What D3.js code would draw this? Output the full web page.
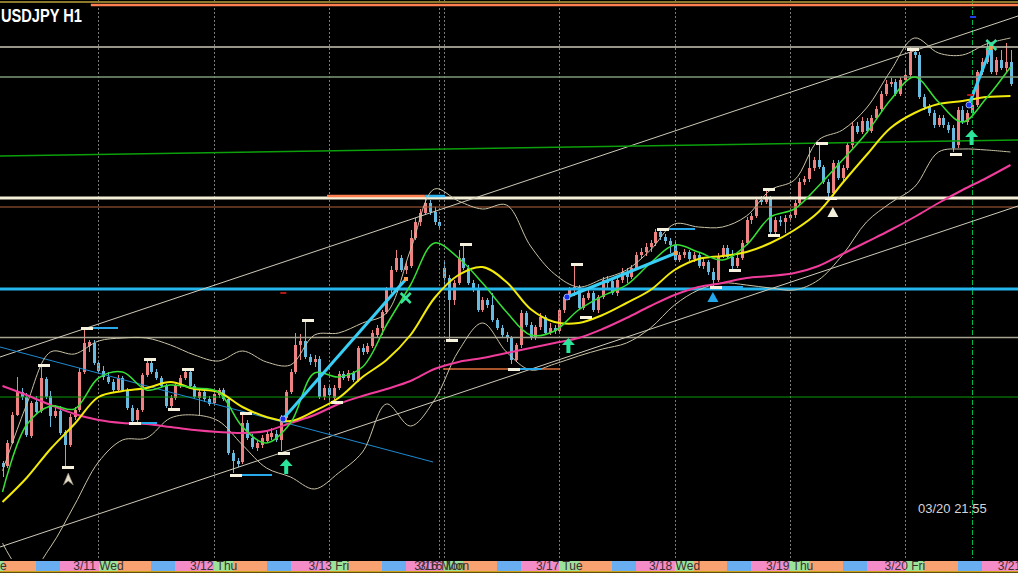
<!DOCTYPE html>
<html><head><meta charset="utf-8">
<script src="https://cdn.jsdelivr.net/npm/d3@7/dist/d3.min.js"></script>
<style>html,body{margin:0;padding:0;background:#000;overflow:hidden}svg{display:block}</style>
</head><body>
<script>
// ================= DATA =================
const symbolTitle = "USDJPY H1";
const clockText = "03/20 21:55";
const firstBarHour = 4; // bar 0 = 3/10 04:00 (H1)

const opens = [
103.18,103.12,103.58,104.14,104.60,104.50,103.72,104.40,104.22,104.86,
104.52,104.12,104.22,103.80,103.54,104.10,104.24,105.00,105.52,105.58,
105.18,105.02,104.90,104.80,104.64,104.88,104.64,104.28,104.04,104.24,
104.94,105.18,105.00,104.88,104.72,104.32,104.48,104.72,104.88,105.00,
104.72,104.48,104.60,104.46,104.38,104.54,104.64,104.46,103.38,103.22,
103.20,103.98,103.68,103.48,103.54,103.62,103.70,103.76,103.64,104.08,
104.60,105.00,105.54,105.62,105.30,105.20,105.26,104.50,104.68,104.48,
104.68,104.96,104.88,104.98,104.84,105.48,105.40,105.52,105.74,105.88,
106.20,106.64,107.04,107.28,107.04,107.12,107.68,108.00,108.18,108.38,
108.20,108.00,107.08,106.88,106.44,106.78,107.28,107.08,106.78,106.68,
106.24,106.44,106.34,106.04,105.88,105.74,105.68,105.24,105.54,106.18,
105.94,105.70,105.90,106.10,105.78,105.88,105.82,106.24,106.50,106.64,
106.70,106.28,106.48,106.58,106.24,106.50,106.84,106.82,106.58,106.84,
107.00,106.90,107.08,107.34,107.40,107.50,107.58,107.80,107.70,107.62,
107.54,107.24,107.34,107.40,107.26,107.34,107.12,107.20,107.00,106.84,
107.32,107.48,107.30,107.12,107.28,107.58,108.04,108.12,108.44,108.40,
108.48,107.80,108.04,108.00,108.08,108.14,108.38,108.80,108.86,109.08,
109.24,109.10,108.80,108.58,109.18,108.88,109.08,109.54,109.92,109.80,
110.02,109.82,110.08,110.26,110.56,110.76,110.80,110.56,110.84,110.94,
111.40,111.34,110.50,110.30,110.18,109.94,110.08,109.94,109.88,109.54,
110.24,110.00,110.18,110.34,111.00,111.20,111.44,111.00,111.24,111.08,
111.20];
const highs = [
103.22,103.64,104.20,104.90,104.68,104.58,104.42,104.52,105.14,104.90,
104.62,104.34,104.32,103.84,104.16,104.30,105.08,105.88,105.64,105.64,
105.24,105.12,105.00,104.86,104.94,104.92,104.68,104.34,104.28,104.98,
105.26,105.22,105.06,104.92,104.76,104.54,104.76,104.94,105.06,105.04,
104.76,104.66,104.68,104.52,104.62,104.68,104.68,104.50,103.44,103.28,
104.20,104.04,103.76,103.64,103.74,103.84,103.88,103.84,104.14,104.64,
105.06,105.78,105.76,106.04,105.36,105.34,105.32,104.74,104.74,104.74,
105.02,105.02,105.04,105.02,105.52,105.56,105.58,105.84,105.94,106.24,
106.70,107.12,107.44,107.34,107.20,107.84,108.08,108.26,108.52,108.44,
108.30,108.06,107.20,106.94,106.84,107.44,107.58,107.14,106.84,106.76,
106.50,106.48,106.58,106.08,105.94,105.80,105.72,105.58,106.24,106.22,
106.00,105.94,106.18,106.14,105.98,105.94,106.28,106.54,106.70,107.12,
106.74,106.54,106.64,106.62,106.54,106.90,106.92,106.84,106.90,107.08,
107.08,107.14,107.40,107.48,107.58,107.64,107.86,107.86,107.76,107.68,
107.60,107.40,107.46,107.44,107.40,107.38,107.26,107.24,107.08,107.38,
107.54,107.54,107.44,107.34,107.64,108.10,108.18,108.50,108.52,108.66,
108.52,108.10,108.12,108.14,108.20,108.44,108.88,108.92,109.50,109.30,
109.60,109.14,108.86,109.24,109.24,109.14,109.60,110.00,110.00,110.10,
110.08,110.14,110.32,110.62,110.84,110.88,110.86,110.90,111.04,111.50,
111.46,111.40,110.56,110.36,110.24,110.14,110.14,110.00,109.94,110.30,
110.32,110.24,110.40,111.04,111.28,111.58,111.50,111.30,111.44,111.58,
111.44];
const lows = [
102.90,103.08,103.56,104.12,104.44,103.70,103.68,104.16,104.18,104.46,
103.90,104.08,103.74,103.10,103.50,104.04,104.20,104.96,105.40,105.14,
104.96,104.84,104.76,104.60,104.60,104.60,104.24,103.96,103.98,104.20,
104.90,104.96,104.84,104.68,104.28,104.26,104.44,104.68,104.84,104.68,
104.46,104.14,104.40,104.32,104.34,104.48,104.42,103.34,102.98,103.10,
103.16,103.64,103.46,103.42,103.48,103.58,103.64,103.60,103.42,104.04,
104.56,104.96,105.24,105.26,105.14,105.10,104.46,104.44,104.44,104.40,
104.64,104.84,104.82,104.80,104.80,105.34,105.36,105.48,105.68,105.74,
106.16,106.58,107.00,107.00,106.96,107.08,107.64,107.92,108.14,108.14,
107.94,107.86,106.64,105.64,106.34,106.74,107.04,106.74,106.60,106.20,
106.20,106.28,106.00,105.84,105.68,105.60,105.16,105.20,105.48,105.90,
105.64,105.64,105.84,105.74,105.74,105.76,105.78,106.18,106.44,106.52,
106.24,106.24,106.44,106.20,106.18,106.46,106.64,106.54,106.52,106.78,
106.78,106.86,107.04,107.28,107.32,107.40,107.52,107.64,107.56,107.38,
107.20,107.20,107.28,107.22,107.20,107.08,107.06,106.94,106.70,106.80,
107.28,107.26,107.04,107.08,107.24,107.54,107.96,108.08,108.34,108.36,
107.74,107.76,107.92,107.78,108.00,108.08,108.34,108.74,108.80,109.02,
109.06,108.76,108.50,108.52,108.84,108.82,109.04,109.48,109.76,109.76,
109.78,109.78,110.04,110.22,110.52,110.70,110.52,110.52,110.78,110.90,
111.28,110.46,110.24,110.12,109.88,109.90,109.88,109.78,109.40,109.48,
109.96,109.94,110.12,110.30,110.94,111.16,110.96,110.94,111.04,111.00,
110.72];
const closes = [
103.10,103.58,104.14,104.60,104.50,103.74,104.38,104.20,104.88,104.50,
104.12,104.22,103.78,103.54,104.10,104.24,105.00,105.58,105.60,105.18,
105.02,104.90,104.80,104.64,104.88,104.64,104.28,104.02,104.24,104.94,
105.18,105.00,104.88,104.72,104.32,104.48,104.72,104.88,105.00,104.72,
104.50,104.60,104.46,104.36,104.56,104.64,104.46,103.38,103.22,103.16,
103.98,103.68,103.50,103.58,103.68,103.76,103.78,103.64,104.08,104.60,
105.00,105.54,105.62,105.30,105.20,105.26,104.50,104.68,104.54,104.68,
104.96,104.88,104.98,104.84,105.48,105.40,105.52,105.78,105.88,106.20,
106.64,107.04,107.28,107.04,107.12,107.68,108.00,108.18,108.38,108.20,
108.00,107.92,106.88,106.44,106.78,107.28,107.08,106.78,106.68,106.24,
106.44,106.34,106.04,105.88,105.74,105.68,105.24,105.54,106.18,105.94,
105.70,105.90,106.10,105.78,105.88,105.82,106.24,106.50,106.64,106.70,
106.28,106.48,106.58,106.24,106.50,106.84,106.78,106.58,106.84,107.00,
106.90,107.08,107.34,107.40,107.50,107.58,107.80,107.70,107.62,107.54,
107.24,107.34,107.40,107.26,107.34,107.12,107.20,107.00,106.84,107.32,
107.48,107.30,107.12,107.28,107.58,108.04,108.12,108.44,108.40,108.48,
107.80,108.04,108.00,108.08,108.14,108.38,108.80,108.86,109.08,109.24,
109.10,108.80,108.58,109.18,108.88,109.08,109.54,109.92,109.80,110.02,
109.82,110.08,110.26,110.56,110.76,110.80,110.56,110.84,110.94,111.40,
111.34,110.50,110.30,110.18,109.94,110.08,109.94,109.84,109.48,110.24,
110.00,110.18,110.34,111.00,111.20,111.44,111.00,111.24,111.08,111.20,
110.76];

// indicator readings (sampled every 5 bars)
const maBars = [0,5,10,15,20,25,30,35,40,45,50,55,60,65,70,75,80,85,90,95,100,105,110,115,120,125,130,135,140,145,150,155,160,165,170,175,180,185,190,195,200,205,210];
const fastMA = [102.60,103.94,104.32,104.26,104.88,105.00,104.64,104.74,104.68,104.60,103.90,103.58,103.98,104.98,104.90,105.10,105.94,106.74,107.58,107.28,106.78,106.20,105.74,105.82,106.24,106.52,106.74,107.18,107.54,107.40,107.24,107.54,108.10,108.26,108.72,109.24,109.78,110.44,110.90,110.40,110.00,110.48,111.10];
const slowMA = [102.40,102.88,103.46,103.96,104.50,104.62,104.68,104.80,104.66,104.60,104.30,104.10,104.02,104.22,104.48,104.90,105.24,105.74,106.48,106.94,107.10,106.80,106.26,106.00,105.98,106.14,106.38,106.64,107.04,107.26,107.32,107.40,107.58,107.84,108.20,108.78,109.34,109.88,110.18,110.36,110.42,110.50,110.52];
const longMA = [104.72,104.54,104.34,104.16,104.04,103.98,103.96,103.90,103.84,103.80,103.78,103.82,103.98,104.14,104.36,104.52,104.66,104.82,105.06,105.20,105.28,105.38,105.48,105.58,105.68,105.86,106.08,106.32,106.54,106.70,106.78,106.88,106.92,106.98,107.12,107.36,107.60,107.84,108.10,108.38,108.64,108.88,109.14];
const bbUpper = [103.02,104.34,105.40,105.36,105.62,105.68,105.68,105.54,105.34,105.22,105.42,105.20,105.14,105.74,105.78,105.98,106.18,107.44,108.66,108.42,108.26,108.34,107.52,106.96,106.70,106.86,107.04,107.44,107.96,107.90,107.90,108.12,108.64,108.84,109.64,109.84,110.28,111.02,111.68,111.38,111.34,111.56,111.68];
const bbLower = [101.58,100.94,101.50,102.34,103.20,103.64,103.68,104.08,104.14,104.02,103.54,103.08,102.90,102.66,102.98,103.40,104.36,103.92,104.44,105.42,105.98,105.40,105.04,105.16,105.32,105.46,105.58,105.88,106.34,106.64,106.78,106.74,106.68,106.64,106.84,107.34,108.00,108.38,108.70,109.40,109.46,109.44,109.40];

// time axis
const dayStartBars = [20,44,68,92,116,140,164,188];
const extraSeparatorBars = [91];
const dayLabels = ["3/10 Tue","3/11 Wed","3/12 Thu","3/13 Fri","3/16 Mon","3/16 Mon","3/17 Tue","3/18 Wed","3/19 Thu","3/20 Fri","3/21 Sat"];
const dayLabelBars = [-4,20,44,68,91,92,116,140,164,188,212];
const sessionStartHours = [0,4,11,16];
const currentBar = 202;

// chart objects (bar index, price)
const hLevels = [112.40,111.50,110.90,108.48,108.30,106.66,105.69,104.50];
const channelUpper = [[-0.52,105.30],[211.56,112.12]];
const channelLower = [[-0.52,101.50],[211.56,108.32]];
const greenTrend = [[-0.52,109.32],[211.56,109.64]];
const blueTrend = [[-0.52,105.50],[89.69,103.20]];
const zigzag = [[[58.44,104.06],[84.06,106.86]],[[117.6,106.50],[140.3,107.38]],[[201.35,110.34],[205.9,111.48]]];
const topOrange = [[18.4,112.34],[211.56,112.34]];
const peakOrange = [[67.6,108.52],[88,108.52]];
const peakCyan = [[88,108.52],[92.2,108.52]];
const lowOrange = [[91.8,105.06],[116.2,105.06]];
const fractalHighs = [[8,105.14],[17,105.88],[30,105.26],[38,105.06],[50,104.18],[63,106.04],[96,107.56],[119,107.16],[137,107.86],[159,108.66],[170,109.58],[189,111.46]];
const fractalLows = [[13,103.10],[27,103.98],[35,104.26],[48,102.94],[58,103.38],[69,104.40],[93,105.64],[106,105.06],[121,106.10],[148,106.70],[152,107.04],[160,107.74],[172,108.48],[198,109.36]];
const fractalExt = [[17,105.88,24.1],[27,103.98,32.2],[48,102.94,56.1],[106,105.06,112.4],[137,107.86,144.3],[148,106.70,154.3]];
const upArrows = [[59.1,103.26],[117.9,105.68],[201.9,109.84]];
const crossMarks = [[84,106.48],[206,111.54]];
const whiteTriangles = [[173,108.20]];
const blueTriangles = [[148,106.50]];
const chevrons = [[13.7,102.86]];
const blueDots = [[58.44,104.06],[117.6,106.50],[201.35,110.34]];
const orangeSquares = [[84.06,106.86],[140.3,107.38],[205.9,111.48]];
const redTicks = [[58.5,106.58],[201.6,110.54]];
const blueTicks = [[202.2,112.10]];

// ================= DRAW =================
const W = 1018, H = 573, chartBottom = 559;
const svg = d3.select("body").append("svg").attr("width", W).attr("height", H);
svg.append("rect").attr("width", W).attr("height", H).attr("fill", "#000");
const x = d3.scaleLinear().domain([0, 210]).range([2.5, 1010.5]);
const y = d3.scaleLinear().domain([101.30, 112.44]).range([557, 0]);

svg.append("defs").append("clipPath").attr("id", "clip")
  .append("rect").attr("x", 0).attr("y", 0).attr("width", W).attr("height", chartBottom);
const g = svg.append("g").attr("clip-path", "url(#clip)");

// session band
const band = svg.append("g").attr("shape-rendering", "crispEdges");
const sessionColors = ["#9BE39B", "#F8A272", "#6AAEF2", "#F48CC8"];
for (let i = -6; i <= 214; i++) {
  const h = ((firstBarHour + i) % 24 + 24) % 24;
  let s = 0;
  sessionStartHours.forEach((sh, k) => { if (h >= sh) s = k; });
  band.append("rect").attr("x", x(i)).attr("y", 561).attr("width", x(i + 1) - x(i) + 0.6)
    .attr("height", 10).attr("fill", sessionColors[s]);
}
svg.append("rect").attr("x", 0).attr("y", 571).attr("width", W).attr("height", 1.5).attr("fill", "#C9A21A");
dayLabels.forEach((t, k) => {
  svg.append("text").attr("x", x(dayLabelBars[k])).attr("y", 570).attr("text-anchor", "middle")
    .attr("font-family", "Liberation Sans, Arial, sans-serif").attr("font-size", 12)
    .attr("fill", "#3a3030").text(t);
});

// candles
const cg = g.append("g").attr("shape-rendering", "crispEdges");
opens.forEach((o, i) => {
  const c = closes[i];
  const col = c >= o ? "#EE8282" : "#68BADF";
  const cx = Math.round(x(i));
  cg.append("line").attr("x1", cx + 0.5).attr("x2", cx + 0.5)
    .attr("y1", y(highs[i])).attr("y2", y(lows[i])).attr("stroke", col).attr("stroke-width", 1);
  const top = y(Math.max(o, c)), bot = y(Math.min(o, c));
  cg.append("rect").attr("x", cx - 1).attr("y", top).attr("width", 3)
    .attr("height", Math.max(1, bot - top)).attr("fill", col);
});

// separators
const sepG = g.append("g");
dayStartBars.concat(extraSeparatorBars).forEach(b => {
  const xx = Math.round(x(b)) + 0.5;
  sepG.append("line").attr("x1", xx).attr("x2", xx).attr("y1", 0).attr("y2", chartBottom)
    .attr("stroke", "#7a7a7a").attr("stroke-width", 1).attr("stroke-dasharray", "2,2");
});
{
  const xx = Math.round(x(currentBar)) + 0.5;
  g.append("line").attr("x1", xx).attr("x2", xx).attr("y1", 0).attr("y2", chartBottom)
    .attr("stroke", "#00B84A").attr("stroke-width", 1).attr("stroke-dasharray", "5,2,1,2");
}

// horizontal levels
const hStyles = [
  {c: "#8C7A2A", w: 2}, {c: "#C9C7B4", w: 1.5}, {c: "#7E9878", w: 1.5}, {c: "#F4EED6", w: 3},
  {c: "#B4603C", w: 1}, {c: "#25B6EE", w: 3}, {c: "#A6A291", w: 1.5}, {c: "#0A9A0A", w: 1}
];
hLevels.forEach((p, k) => {
  g.append("line").attr("x1", 0).attr("x2", W).attr("y1", y(p)).attr("y2", y(p))
    .attr("stroke", hStyles[k].c).attr("stroke-width", hStyles[k].w);
});

function seg(pts, col, w, parent) {
  (parent || g).append("line").attr("x1", x(pts[0][0])).attr("y1", y(pts[0][1]))
    .attr("x2", x(pts[1][0])).attr("y2", y(pts[1][1]))
    .attr("stroke", col).attr("stroke-width", w);
}
seg(topOrange, "#FF7F50", 2.5);
seg(channelUpper, "#CFCBB8", 1);
seg(channelLower, "#CFCBB8", 1);
seg(greenTrend, "#0BA00B", 1.5);
seg(blueTrend, "#1E8AD2", 1);
seg(peakOrange, "#FF7F50", 2.5);
seg(peakCyan, "#2EB4F0", 2.5);
seg(lowOrange, "#E0703A", 1.5);

// indicator lines
const lineGen = arr => d3.line().x((d, k) => x(maBars[k])).y(d => y(d)).curve(d3.curveCatmullRom.alpha(0.5))(arr);
g.append("path").attr("d", lineGen(bbUpper)).attr("fill", "none").attr("stroke", "#C9C3A6").attr("stroke-width", 1);
g.append("path").attr("d", lineGen(bbLower)).attr("fill", "none").attr("stroke", "#C9C3A6").attr("stroke-width", 1);
g.append("path").attr("d", lineGen(longMA)).attr("fill", "none").attr("stroke", "#F03C9A").attr("stroke-width", 2);
g.append("path").attr("d", lineGen(slowMA)).attr("fill", "none").attr("stroke", "#F2EA0A").attr("stroke-width", 2);
g.append("path").attr("d", lineGen(fastMA)).attr("fill", "none").attr("stroke", "#36E036").attr("stroke-width", 1.5);

// zigzag
zigzag.forEach(s => seg(s, "#38CFF7", 3));

// fractal markers
const fg = g.append("g").attr("shape-rendering", "crispEdges");
fractalExt.forEach(d => {
  fg.append("line").attr("x1", x(d[0]) + 9).attr("x2", x(d[2])).attr("y1", y(d[1])).attr("y2", y(d[1]))
    .attr("stroke", "#27A9EC").attr("stroke-width", 2.5);
});
fractalHighs.concat(fractalLows).forEach(d => {
  fg.append("rect").attr("x", x(d[0]) - 3).attr("y", y(d[1]) - 1.5).attr("width", 12).attr("height", 3)
    .attr("fill", "#F7F2DE");
});

// arrows
upArrows.forEach(d => {
  const cx = x(d[0]), t = y(d[1]);
  g.append("path").attr("d", `M${cx},${t} L${cx + 6.5},${t + 7} L${cx + 2},${t + 7} L${cx + 2},${t + 15} L${cx - 2},${t + 15} L${cx - 2},${t + 7} L${cx - 6.5},${t + 7} Z`)
    .attr("fill", "#2BE59A");
});
crossMarks.forEach(d => {
  const cx = x(d[0]), cy = y(d[1]);
  g.append("path").attr("d", `M${cx - 5},${cy - 5} L${cx + 5},${cy + 5} M${cx + 5},${cy - 5} L${cx - 5},${cy + 5}`)
    .attr("stroke", "#35E39E").attr("stroke-width", 2.5);
});
whiteTriangles.forEach(d => {
  const cx = x(d[0]), cy = y(d[1]);
  g.append("path").attr("d", `M${cx},${cy - 5} L${cx + 5.5},${cy + 5} L${cx - 5.5},${cy + 5} Z`).attr("fill", "#F2EEDC");
});
blueTriangles.forEach(d => {
  const cx = x(d[0]), cy = y(d[1]);
  g.append("path").attr("d", `M${cx},${cy - 5} L${cx + 5.5},${cy + 5} L${cx - 5.5},${cy + 5} Z`).attr("fill", "#22A6EC");
});
chevrons.forEach(d => {
  const cx = x(d[0]), cy = y(d[1]);
  g.append("path").attr("d", `M${cx},${cy - 6} L${cx + 5},${cy + 6} L${cx},${cy + 2} L${cx - 5},${cy + 6} Z`)
    .attr("fill", "#E6DECB").attr("stroke", "#8c8474").attr("stroke-width", 0.6);
});
blueDots.forEach(d => {
  g.append("circle").attr("cx", x(d[0])).attr("cy", y(d[1])).attr("r", 3).attr("fill", "#1530F0")
    .attr("stroke", "#B8C8FF").attr("stroke-width", 0.8);
});
orangeSquares.forEach(d => {
  g.append("rect").attr("x", x(d[0]) - 2).attr("y", y(d[1]) - 2).attr("width", 4).attr("height", 4).attr("fill", "#F4A050");
});
redTicks.forEach(d => {
  g.append("rect").attr("x", x(d[0]) - 3).attr("y", y(d[1]) - 1).attr("width", 6).attr("height", 2).attr("fill", "#B01818");
});
blueTicks.forEach(d => {
  g.append("rect").attr("x", x(d[0]) - 3).attr("y", y(d[1]) - 1).attr("width", 6).attr("height", 2).attr("fill", "#2040F0");
});

// texts
svg.append("text").attr("x", 1).attr("y", 22).attr("font-family", "Liberation Sans, Arial, sans-serif")
  .attr("font-weight", "bold").attr("font-size", 18).attr("textLength", 81).attr("lengthAdjust", "spacingAndGlyphs")
  .attr("fill", "#FFFFFF").text(symbolTitle);
svg.append("text").attr("x", 918).attr("y", 513).attr("font-family", "Liberation Sans, Arial, sans-serif")
  .attr("font-size", 13).attr("fill", "#D6D6D6").text(clockText);
</script>
</body></html>
